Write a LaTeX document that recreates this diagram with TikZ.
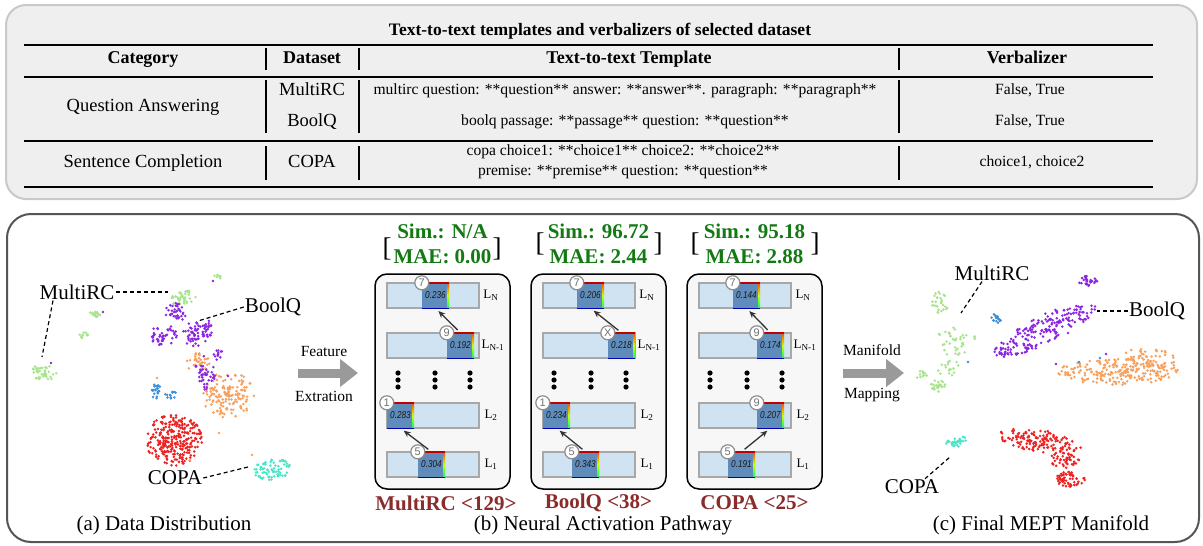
\documentclass[tikz,border=0pt]{standalone}
\usepackage{fontspec}
\setmainfont{Liberation Serif}
\newfontfamily\valfont{Liberation Sans}
\newfontfamily\valnarrow[FakeStretch=0.82]{Liberation Sans}
\usetikzlibrary{arrows.meta,positioning}
\definecolor{toppanel}{HTML}{EFEFEF}
\definecolor{topedge}{HTML}{C9C9C9}
\definecolor{botedge}{HTML}{555555}
\definecolor{mgreen}{HTML}{A8E48E}
\definecolor{mpurple}{HTML}{8B26E4}
\definecolor{morange}{HTML}{F8A15E}
\definecolor{mblue}{HTML}{3B8EDB}
\definecolor{mred}{HTML}{EE2222}
\definecolor{mcyan}{HTML}{48E6C8}
\definecolor{simgreen}{HTML}{137A13}
\definecolor{capred}{HTML}{8A2C2C}
\definecolor{barblue}{HTML}{CFE3F3}
\definecolor{segblue}{HTML}{5F8CBB}
\definecolor{bargray}{HTML}{A8A8A8}
\definecolor{arrgray}{HTML}{9A9A9A}

% cx, cy, rx, ry, rotation, count, colour
\newcommand\scatterblob[7]{%
  \foreach \k in {1,...,#6}{%
    \pgfmathsetmacro\ang{360*rnd}%
    \pgfmathsetmacro\rad{pow(rnd,0.65)}%
    \pgfmathsetmacro\ux{#3*\rad*cos(\ang)}%
    \pgfmathsetmacro\uy{#4*\rad*sin(\ang)}%
    \pgfmathsetmacro\px{#1+\ux*cos(#5)-\uy*sin(#5)}%
    \pgfmathsetmacro\py{#2+\ux*sin(#5)+\uy*cos(#5)}%
    \fill[#7] (\px,\py) circle (1.4);
  }}
% name, left x, top y, circled number, value
\newcommand\actseg[5]{%
  \node[segbox] (#1) at (#2+13.5,#3+12.5) {#5};
  \shade[top color=red!70!yellow, bottom color=green!60!cyan, middle color=yellow!80!green]
    ([xshift=-2]#1.north east) rectangle (#1.south east);
  \draw[segtop] (#1.north west) -- (#1.north east);
  \draw[segbot] (#1.south west) -- (#1.south east);
  \node[numring] (#1c) at (#1.north west) {#4};
}
\newcommand\layerbars{%
  \foreach \ty in {9,59,129,178}
    \draw[barbox] (12,\ty) rectangle (104,\ty+25);
  \foreach \dx in {23,60,95}
    \foreach \dy in {99,106,113}
      \fill (\dx,\dy) circle (2.6);
}

\begin{document}
\begin{tikzpicture}[x=1pt,y=-1pt,
  tabtxt/.style={font=\fontsize{18.5}{21}\selectfont,text height=13,text depth=4},
  tabhead/.style={font=\fontsize{18}{21}\selectfont\bfseries,text height=13,text depth=4},
  tabsmall/.style={font=\fontsize{15.6}{20}\selectfont,text height=11,text depth=3.5},
  tabtwo/.style={font=\fontsize{15.6}{20}\selectfont,align=center},
  thickrule/.style={line width=1.8},
  midrule/.style={line width=1.2},
  colsep/.style={line width=1.1},
  lbl/.style={font=\fontsize{21}{24}\selectfont,inner sep=1},
  caption/.style={font=\fontsize{21}{24}\selectfont},
  dashlink/.style={dashed,dash pattern=on 4 off 3,line width=1.2},
  bigarrow/.style={arrgray,line width=9,-{Triangle[width=27,length=18]}},
  arrlbl/.style={font=\fontsize{15.5}{18}\selectfont},
  pbox/.style={draw=black,line width=1.5,fill=black!3,rounded corners=12},
  barbox/.style={draw=bargray,line width=2.5,fill=barblue},
  segbox/.style={fill=segblue,minimum width=27,minimum height=25,inner sep=0,
    font=\valnarrow\itshape\fontsize{10}{10}\selectfont,text=black!90},
  segtop/.style={red!75!black,line width=1.5},
  segbot/.style={blue!70!black,line width=1.2},
  numring/.style={circle,draw=black!45,line width=1.2,fill=white,inner sep=0,
    minimum size=14,font=\valfont\fontsize{11}{11}\selectfont,text=black!55},
  laylbl/.style={font=\fontsize{13}{14}\selectfont},
  simtxt/.style={font=\fontsize{21}{25}\selectfont\bfseries,text=simgreen,align=center},
  brack/.style={font=\fontsize{27}{27}\selectfont},
  boxcap/.style={font=\fontsize{21}{24}\selectfont\bfseries,text=capred},
  stepArrow/.style={-{Stealth[length=7,width=6]},line width=1.3,black!80,
    shorten <=4,shorten >=4}]
\useasboundingbox (0,0) rectangle (1203,546);
\pgfmathsetseed{11}

\draw[fill=toppanel,draw=topedge,line width=2,rounded corners=20] (6,5) rectangle (1197,199);
\draw[fill=white,draw=botedge,line width=2,rounded corners=24] (7,214) rectangle (1199,542);

\node[font=\fontsize{17.5}{20}\selectfont\bfseries] (ttitle) at (600,31) {Text-to-text templates and verbalizers of selected dataset};
\draw[thickrule] (24,45) -- (1153,45);
\draw[midrule] (24,77) -- (1153,77);
\draw[midrule] (24,141) -- (1153,141);
\draw[thickrule] (24,187) -- (1153,187);
\foreach \sx in {266,359,899}{
  \draw[colsep] (\sx,48) -- (\sx,70);
  \draw[colsep] (\sx,80) -- (\sx,133);
  \draw[colsep] (\sx,146) -- (\sx,180);
}
\node[tabhead] (hCat) at (143,59) {Category};
\node[tabhead] (hData) at (312,59) {Dataset};
\node[tabhead] (hTmpl) at (629,59) {Text-to-text Template};
\node[tabhead] (hVerb) at (1027,59) {Verbalizer};
\node[tabtxt] (cQA) at (143,107) {Question Answering};
\node[tabtxt] (cSC) at (143,163) {Sentence Completion};
\node[tabtxt] (dMulti) at (312,91) {MultiRC};
\node[tabtxt] (dBool) at (312,122) {BoolQ};
\node[tabtxt] (dCopa) at (312,163) {COPA};
\node[tabsmall] (tMulti) at (625,91) {multirc question: **question** answer: **answer**. paragraph: **paragraph**};
\node[tabsmall] (tBool) at (625,122) {boolq passage: **passage** question: **question**};
\node[tabtwo] (tCopa) at (623,162) {copa choice1: **choice1** choice2: **choice2**\\premise: **premise** question: **question**};
\node[tabsmall] (vMulti) at (1030,91) {False, True};
\node[tabsmall] (vBool) at (1030,122) {False, True};
\node[tabsmall] (vCopa) at (1032,163) {choice1, choice2};

\scatterblob{43}{373}{15}{8}{0}{40}{mgreen}
\scatterblob{95}{314}{6}{4}{0}{16}{mgreen}
\scatterblob{83}{335}{5}{3}{0}{10}{mgreen}
\scatterblob{183}{298}{15}{7}{-10}{38}{mgreen}
\scatterblob{218}{277}{4}{3}{0}{7}{mgreen}
\scatterblob{228}{395}{26}{23}{0}{150}{morange}
\scatterblob{198}{362}{13}{9}{0}{30}{morange}
\scatterblob{176}{312}{11}{10}{0}{35}{mpurple}
\scatterblob{163}{335}{14}{11}{0}{45}{mpurple}
\scatterblob{195}{335}{13}{13}{0}{50}{mpurple}
\scatterblob{210}{329}{7}{9}{0}{18}{mpurple}
\scatterblob{205}{373}{11}{17}{0}{40}{mpurple}
\scatterblob{218}{355}{5}{6}{0}{12}{mpurple}
\scatterblob{155}{390}{6}{9}{0}{22}{mblue}
\scatterblob{171}{395}{6}{5}{0}{12}{mblue}
\scatterblob{174}{440}{28}{26}{0}{280}{mred}
\scatterblob{272}{469}{19}{11}{-5}{75}{mcyan}
\foreach \px/\py in {213/281,103/312,51/363,228/376}
  \fill[mpurple] (\px,\py) circle (1.4);
\foreach \px/\py in {157/378,219/433,190/460,252/455}
  \fill[morange] (\px,\py) circle (1.4);

\node[lbl] (aMulti) at (77,292) {MultiRC};
\node[lbl] (aBool) at (273,307) {BoolQ};
\node[lbl] (aCopa) at (175,478) {COPA};
\coordinate (aMultiA) at (168,292);
\coordinate (aMultiB) at (42,357);
\coordinate (aBoolP) at (198,321);
\coordinate (aCopaP) at (248,467);
\draw[dashlink] (aMulti.east) -- (aMultiA);
\draw[dashlink] ([xshift=-24]aMulti.south) -- (aMultiB);
\draw[dashlink] (aBool.west) -- (aBoolP);
\draw[dashlink] (aCopa.east) -- (aCopaP);
\node[caption] (capA) at (164,525) {(a) Data Distribution};

\coordinate (featS) at (298,373);
\coordinate (featE) at (358,373);
\draw[bigarrow] (featS) -- (featE);
\node[arrlbl] (featT) at (324,351) {Feature};
\node[arrlbl] (featB) at (324,396) {Extration};

\begin{scope}[shift={(375,274)}]
  \draw[pbox] (0,0) rectangle (135,215);
  \layerbars
  \actseg{b1N}{47}{9}{7}{0.236}
  \actseg{b1M}{72}{59}{9}{0.192}
  \actseg{b1B}{12}{129}{1}{0.283}
  \actseg{b1A}{43}{178}{5}{0.304}
  \draw[stepArrow] (b1M.north) -- (b1N.south);
  \draw[stepArrow] (b1A.north) -- (b1B.south);
  \node[laylbl] (b1LN) at (116,21.5) {L\textsubscript{N}};
  \node[laylbl] (b1LM) at (118,71.5) {L\textsubscript{N-1}};
  \node[laylbl] (b1LB) at (116,141.5) {L\textsubscript{2}};
  \node[laylbl] (b1LA) at (116,190.5) {L\textsubscript{1}};
  \node[simtxt] (b1Sim) at (67.5,-30) {Sim.: N/A\\MAE: 0.00};
  \node[brack] (b1L) at (12,-25) {[};
  \node[brack] (b1R) at (122,-25) {]};
  \node[boxcap] (b1Cap) at (71,229) {MultiRC <129>};
\end{scope}

\begin{scope}[shift={(531,274)}]
  \draw[pbox] (0,0) rectangle (135,215);
  \layerbars
  \actseg{b2N}{46}{9}{7}{0.206}
  \actseg{b2M}{77}{59}{X}{0.218}
  \actseg{b2B}{12}{129}{1}{0.234}
  \actseg{b2A}{41}{178}{5}{0.343}
  \draw[stepArrow] (b2M.north) -- (b2N.south);
  \draw[stepArrow] (b2A.north) -- (b2B.south);
  \node[laylbl] (b2LN) at (116,21.5) {L\textsubscript{N}};
  \node[laylbl] (b2LM) at (118,71.5) {L\textsubscript{N-1}};
  \node[laylbl] (b2LB) at (116,141.5) {L\textsubscript{2}};
  \node[laylbl] (b2LA) at (116,190.5) {L\textsubscript{1}};
  \node[simtxt] (b2Sim) at (67.5,-30) {Sim.: 96.72\\MAE: 2.44};
  \node[brack] (b2L) at (9,-30) {[};
  \node[brack] (b2R) at (127,-30) {]};
  \node[boxcap] (b2Cap) at (67.5,229) {BoolQ <38>};
\end{scope}

\begin{scope}[shift={(687,274)}]
  \draw[pbox] (0,0) rectangle (135,215);
  \layerbars
  \actseg{b3N}{46}{9}{7}{0.144}
  \actseg{b3M}{70}{59}{9}{0.174}
  \actseg{b3B}{70}{129}{9}{0.207}
  \actseg{b3A}{41}{178}{5}{0.191}
  \draw[stepArrow] (b3M.north) -- (b3N.south);
  \draw[stepArrow] (b3A.north) -- (b3B.south);
  \node[laylbl] (b3LN) at (116,21.5) {L\textsubscript{N}};
  \node[laylbl] (b3LM) at (118,71.5) {L\textsubscript{N-1}};
  \node[laylbl] (b3LB) at (116,141.5) {L\textsubscript{2}};
  \node[laylbl] (b3LA) at (116,190.5) {L\textsubscript{1}};
  \node[simtxt] (b3Sim) at (67.5,-30) {Sim.: 95.18\\MAE: 2.88};
  \node[brack] (b3L) at (8,-30) {[};
  \node[brack] (b3R) at (128,-30) {]};
  \node[boxcap] (b3Cap) at (67.5,229) {COPA <25>};
\end{scope}
\node[caption] (capB) at (603,525) {(b) Neural Activation Pathway};

\coordinate (maniS) at (843,373);
\coordinate (maniE) at (904,373);
\draw[bigarrow] (maniS) -- (maniE);
\node[arrlbl] (maniT) at (872,350) {Manifold};
\node[arrlbl] (maniB) at (872,395) {Mapping};

\scatterblob{940}{302}{9}{11}{0}{28}{mgreen}
\scatterblob{955}{340}{20}{18}{0}{40}{mgreen}
\scatterblob{948}{368}{14}{8}{0}{18}{mgreen}
\scatterblob{938}{386}{8}{6}{0}{26}{mgreen}
\scatterblob{921}{375}{6}{4}{0}{12}{mgreen}
\scatterblob{995}{319}{6}{5}{0}{16}{mblue}
\scatterblob{1045}{330}{56}{15}{-26}{200}{mpurple}
\scatterblob{1088}{281}{10}{5}{0}{28}{mpurple}
\scatterblob{1002}{352}{7}{4}{0}{12}{mpurple}
\scatterblob{1118}{372}{62}{13}{0}{200}{morange}
\scatterblob{1148}{362}{28}{15}{0}{80}{morange}
\scatterblob{1040}{441}{42}{11}{8}{150}{mred}
\scatterblob{1064}{460}{15}{8}{0}{45}{mred}
\scatterblob{1070}{479}{15}{8}{0}{60}{mred}
\scatterblob{957}{442}{12}{5}{-10}{34}{mcyan}
\foreach \px/\py in {968/362,1079/362,1100/358}
  \fill[mblue] (\px,\py) circle (1.4);
\foreach \px/\py in {1056/364,1106/354}
  \fill[mpurple] (\px,\py) circle (1.4);

\node[lbl] (cMulti) at (992,273) {MultiRC};
\node[lbl] (cBool) at (1157,311) {BoolQ};
\node[lbl] (cCopa) at (912,487) {COPA};
\coordinate (cMultiP) at (961,313);
\coordinate (cBoolP) at (1097,311);
\coordinate (cCopaP) at (950,457);
\draw[dashlink] ([xshift=-10]cMulti.south) -- (cMultiP);
\draw[dashlink] (cBool.west) -- (cBoolP);
\draw[dashlink] ([xshift=13]cCopa.north) -- (cCopaP);
\node[caption] (capC) at (1041,525) {(c) Final MEPT Manifold};
\end{tikzpicture}
\end{document}
